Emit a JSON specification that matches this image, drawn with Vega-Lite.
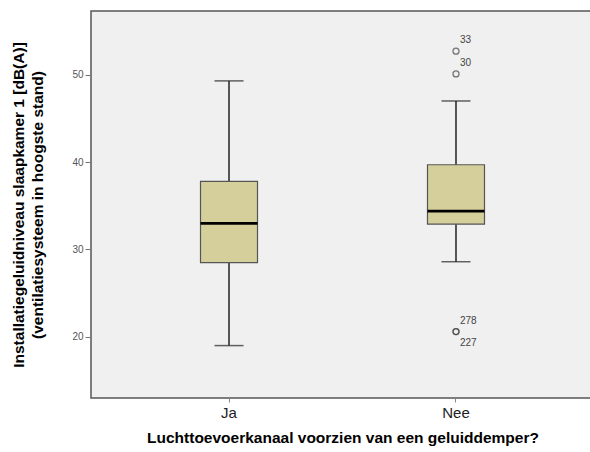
{
  "$schema": "https://vega.github.io/schema/vega-lite/v6.json",
  "autosize": "none",
  "width": 503,
  "height": 387,
  "padding": {"left": 91, "top": 11, "right": 0, "bottom": 54},
  "background": "white",
  "config": {
    "view": {"fill": "#f0f0f0", "stroke": "#555555", "strokeWidth": 1.5},
    "font": "Liberation Sans"
  },
  "datasets": {
    "stats": [
      {"group": "Ja", "lower": 19.0, "q1": 28.5, "median": 33.0, "q3": 37.8, "upper": 49.3},
      {"group": "Nee", "lower": 28.6, "q1": 32.9, "median": 34.4, "q3": 39.7, "upper": 47.0}
    ],
    "outliers": [
      {"group": "Nee", "value": 52.7, "label": "33"},
      {"group": "Nee", "value": 50.1, "label": "30"},
      {"group": "Nee", "value": 20.6, "label": "278"},
      {"group": "Nee", "value": 20.6, "label": "227"}
    ]
  },
  "encoding": {
    "x": {
      "field": "group",
      "type": "nominal",
      "sort": ["Ja", "Nee"],
      "scale": {"domain": ["Ja", "Nee"], "paddingInner": 0, "paddingOuter": 0.108},
      "axis": {
        "title": "Luchttoevoerkanaal voorzien van een geluiddemper?",
        "titleFontSize": 15.5,
        "titleFontWeight": "bold",
        "titleColor": "black",
        "titlePadding": 10,
        "labelAngle": 0,
        "labelFontSize": 15,
        "labelColor": "#222222",
        "labelPadding": 3,
        "domain": false,
        "tickColor": "#888888",
        "tickSize": 4,
        "grid": false
      }
    }
  },
  "layer": [
    {
      "data": {"name": "stats"},
      "mark": {"type": "rule", "color": "#222222", "strokeWidth": 1.5},
      "encoding": {
        "y": {
          "field": "lower",
          "type": "quantitative",
          "scale": {"domain": [13, 57.3], "nice": false, "zero": false},
          "axis": {
            "title": ["Installatiegeluidniveau slaapkamer 1 [dB(A)]", "(ventilatiesysteem in hoogste stand)"],
            "titleFontSize": 15.5,
            "titleFontWeight": "bold",
            "titleColor": "black",
            "titleLineHeight": 19,
            "titlePadding": 26,
            "values": [20, 30, 40, 50],
            "labelFontSize": 10,
            "labelColor": "#555555",
            "tickColor": "#777777",
            "tickSize": 6,
            "domain": false,
            "grid": false
          }
        },
        "y2": {"field": "upper"}
      }
    },
    {
      "data": {"name": "stats"},
      "mark": {"type": "tick", "color": "#222222", "size": 29, "thickness": 1.5, "orient": "horizontal"},
      "encoding": {"y": {"field": "upper", "type": "quantitative"}}
    },
    {
      "data": {"name": "stats"},
      "mark": {"type": "tick", "color": "#222222", "size": 29, "thickness": 1.5, "orient": "horizontal"},
      "encoding": {"y": {"field": "lower", "type": "quantitative"}}
    },
    {
      "data": {"name": "stats"},
      "mark": {"type": "bar", "size": 57, "fill": "#d4cf9b", "stroke": "#555555", "strokeWidth": 1.2},
      "encoding": {
        "y": {"field": "q1", "type": "quantitative"},
        "y2": {"field": "q3"}
      }
    },
    {
      "data": {"name": "stats"},
      "mark": {"type": "tick", "color": "#000000", "size": 57, "thickness": 2.8, "orient": "horizontal", "opacity": 1},
      "encoding": {"y": {"field": "median", "type": "quantitative"}}
    },
    {
      "data": {"name": "outliers"},
      "mark": {"type": "point", "shape": "circle", "filled": false, "size": 36, "stroke": "#444444", "strokeWidth": 1.3},
      "encoding": {"y": {"field": "value", "type": "quantitative"}}
    },
    {
      "data": {"name": "outliers"},
      "transform": [{"filter": "datum.label != '227'"}],
      "mark": {"type": "text", "align": "left", "dx": 4, "dy": -11, "fontSize": 10, "color": "#444444"},
      "encoding": {
        "y": {"field": "value", "type": "quantitative"},
        "text": {"field": "label"}
      }
    },
    {
      "data": {"name": "outliers"},
      "transform": [{"filter": "datum.label == '227'"}],
      "mark": {"type": "text", "align": "left", "dx": 4, "dy": 11, "fontSize": 10, "color": "#444444"},
      "encoding": {
        "y": {"field": "value", "type": "quantitative"},
        "text": {"field": "label"}
      }
    }
  ]
}
